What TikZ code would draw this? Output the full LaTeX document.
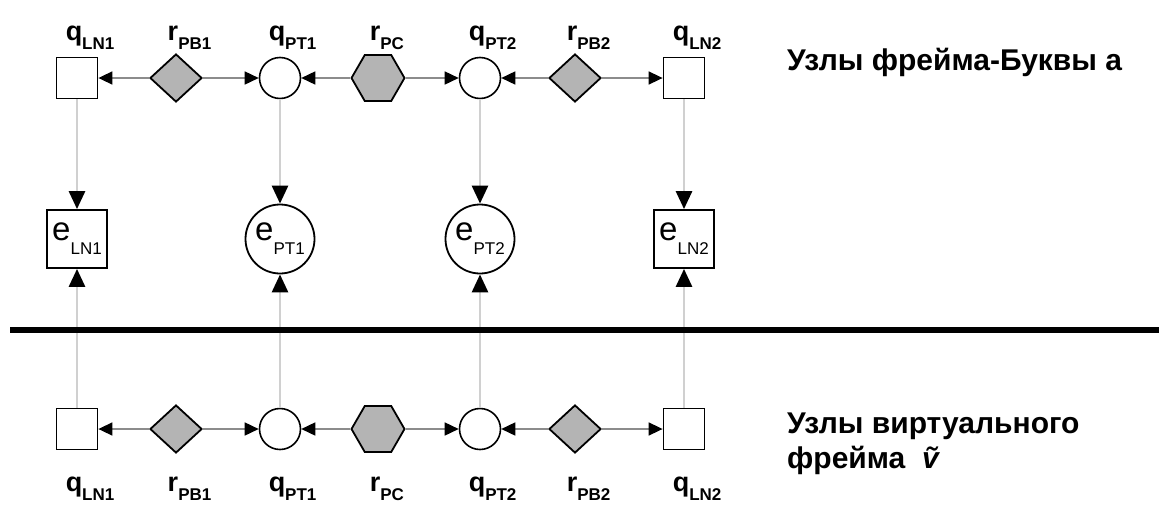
\documentclass[tikz,border=0pt]{standalone}
\usepackage{fontspec}
\setmainfont{Liberation Sans}
\usetikzlibrary{positioning,shapes.geometric,arrows.meta}

\definecolor{rgray}{HTML}{B4B4B4}
\definecolor{hgray}{HTML}{8C8C8C}
\definecolor{vgray}{HTML}{D0D0D0}

% main letter with its index below right
\newcommand{\qrlbl}[2]{#1\rlap{\raisebox{-9pt}{\fontsize{17}{17}\selectfont #2}}}
\newcommand{\elbl}[2]{{\fontsize{33}{33}\selectfont #1}\raisebox{-14pt}{\fontsize{17}{17}\selectfont #2}}

\tikzset{
  qsq/.style={rectangle, draw, line width=1.8pt, fill=white, minimum size=41pt, inner sep=0pt},
  qcirc/.style={circle, draw, line width=1.6pt, fill=white, minimum size=41pt, inner sep=0pt},
  rdia/.style={diamond, draw, line width=1.8pt, fill=rgray, minimum width=52pt, minimum height=48pt, inner sep=0pt},
  rhex/.style={regular polygon, regular polygon sides=6, draw, line width=1.8pt, fill=rgray, minimum size=53pt, inner sep=0pt},
  esq/.style={rectangle, draw, line width=1.8pt, fill=white, minimum width=60pt, minimum height=58pt, inner sep=0pt},
  ecirc/.style={circle, draw, line width=1.8pt, fill=white, minimum size=69pt, inner sep=0pt},
  lbl/.style={anchor=base, inner sep=0pt, font=\bfseries\fontsize{27}{27}\selectfont},
  caption/.style={anchor=base west, inner sep=0pt, align=left, font=\bfseries\fontsize{30}{35}\selectfont},
  hedge/.style={draw=hgray, line width=1.6pt, -{Triangle[color=black, length=14pt, width=13pt]}},
  vedge/.style={draw=vgray, line width=2.8pt, -{Triangle[color=black, length=18pt, width=16pt]}},
}

\begin{document}
\begin{tikzpicture}[x=1pt, y=-1pt, on grid]
  \useasboundingbox (0,0) rectangle (1159,509);

  % Define nodes: frame of the letter
  \node[qsq]                      (qln1)  at (77,78) {};
  \node[rdia,  right=99pt of qln1]  (rpb1)  {};
  \node[qcirc, right=104pt of rpb1] (qpt1)  {};
  \node[rhex,  right=98pt of qpt1]  (rpc)   {};
  \node[qcirc, right=102pt of rpc]  (qpt2)  {};
  \node[rdia,  right=95pt of qpt2]  (rpb2)  {};
  \node[qsq,   right=109pt of rpb2] (qln2)  {};

  % Define nodes: e row
  \node[esq,   below=161pt of qln1] (eln1)  {\elbl{e}{LN1}};
  \node[ecirc, below=161pt of qpt1] (ept1)  {\elbl{e}{PT1}};
  \node[ecirc, below=161pt of qpt2] (ept2)  {\elbl{e}{PT2}};
  \node[esq,   below=161pt of qln2] (eln2)  {\elbl{e}{LN2}};

  % Define nodes: virtual frame
  \node[qsq,   below=190pt of eln1] (vqln1) {};
  \node[rdia,  below=351pt of rpb1] (vrpb1) {};
  \node[qcirc, below=190pt of ept1] (vqpt1) {};
  \node[rhex,  below=351pt of rpc]  (vrpc)  {};
  \node[qcirc, below=190pt of ept2] (vqpt2) {};
  \node[rdia,  below=351pt of rpb2] (vrpb2) {};
  \node[qsq,   below=190pt of eln2] (vqln2) {};

  % Labels
  \node[lbl] (l-qln1)  at ([shift={(-3,-38)}]qln1.center)  {\qrlbl{q}{LN1}};
  \node[lbl] (l-rpb1)  at ([shift={(-3,-38)}]rpb1.center)  {\qrlbl{r}{PB1}};
  \node[lbl] (l-qpt1)  at ([shift={(-3,-38)}]qpt1.center)  {\qrlbl{q}{PT1}};
  \node[lbl] (l-rpc)   at ([shift={(-3,-38)}]rpc.center)   {\qrlbl{r}{PC}};
  \node[lbl] (l-qpt2)  at ([shift={(-3,-38)}]qpt2.center)  {\qrlbl{q}{PT2}};
  \node[lbl] (l-rpb2)  at ([shift={(-3,-38)}]rpb2.center)  {\qrlbl{r}{PB2}};
  \node[lbl] (l-qln2)  at ([shift={(-3,-38)}]qln2.center)  {\qrlbl{q}{LN2}};
  \node[lbl] (l-vqln1) at ([shift={(-3,62)}]vqln1.center)  {\qrlbl{q}{LN1}};
  \node[lbl] (l-vrpb1) at ([shift={(-3,62)}]vrpb1.center)  {\qrlbl{r}{PB1}};
  \node[lbl] (l-vqpt1) at ([shift={(-3,62)}]vqpt1.center)  {\qrlbl{q}{PT1}};
  \node[lbl] (l-vrpc)  at ([shift={(-3,62)}]vrpc.center)   {\qrlbl{r}{PC}};
  \node[lbl] (l-vqpt2) at ([shift={(-3,62)}]vqpt2.center)  {\qrlbl{q}{PT2}};
  \node[lbl] (l-vrpb2) at ([shift={(-3,62)}]vrpb2.center)  {\qrlbl{r}{PB2}};
  \node[lbl] (l-vqln2) at ([shift={(-3,62)}]vqln2.center)  {\qrlbl{q}{LN2}};

  \node[caption] (cap-top) at (787,70)  {Узлы фрейма-Буквы a};
  \node[caption, anchor=north west] (cap-bot) at (787,413) {Узлы виртуального\\фрейма \ \textit{\~{v}}};

  % Connect the nodes
  \draw[hedge] (rpb1) -- (qln1);
  \draw[hedge] (rpb1) -- (qpt1);
  \draw[hedge] (rpc)  -- (qpt1);
  \draw[hedge] (rpc)  -- (qpt2);
  \draw[hedge] (rpb2) -- (qpt2);
  \draw[hedge] (rpb2) -- (qln2);

  \draw[hedge] (vrpb1) -- (vqln1);
  \draw[hedge] (vrpb1) -- (vqpt1);
  \draw[hedge] (vrpc)  -- (vqpt1);
  \draw[hedge] (vrpc)  -- (vqpt2);
  \draw[hedge] (vrpb2) -- (vqpt2);
  \draw[hedge] (vrpb2) -- (vqln2);

  \draw[vedge] (qln1) -- (eln1);
  \draw[vedge] (qpt1) -- (ept1);
  \draw[vedge] (qpt2) -- (ept2);
  \draw[vedge] (qln2) -- (eln2);
  \draw[vedge] (vqln1) -- (eln1);
  \draw[vedge] (vqpt1) -- (ept1);
  \draw[vedge] (vqpt2) -- (ept2);
  \draw[vedge] (vqln2) -- (eln2);

  % Separator
  \draw[line width=6pt] (10,330) -- (1159,330);

\end{tikzpicture}
\end{document}
